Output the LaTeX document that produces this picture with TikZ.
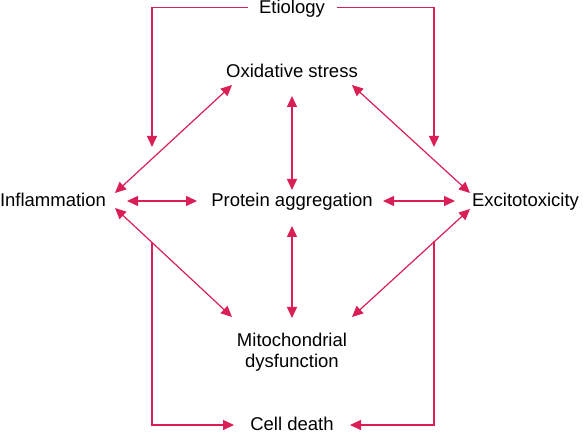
\documentclass[tikz,border=0pt]{standalone}
\usepackage{fontspec}
\setmainfont{Liberation Sans}
\usetikzlibrary{arrows.meta}
\definecolor{crim}{RGB}{218,30,86}
\tikzset{
  lbl/.style={inner sep=0pt, outer sep=0pt, anchor=base, font=\fontsize{18.5}{21}\selectfont, text=black},
  conn/.style={draw=crim, line width=1.2pt, -{Triangle[length=11pt,width=10pt]}},
  dconn/.style={draw=crim, line width=1.2pt, {Triangle[length=11pt,width=10pt]}-{Triangle[length=11pt,width=10pt]}},
  plain/.style={draw=crim, line width=1.2pt}
}
\begin{document}
\begin{tikzpicture}[x=1pt,y=-1pt]
\useasboundingbox (0,0) rectangle (584,435);
% labels
\node[lbl] (etio) at (292,14) {Etiology};
\node[lbl] (ox) at (292,78) {Oxidative stress};
\node[lbl, anchor=base west] (infl) at (0,207) {Inflammation};
\node[lbl] (prot) at (292,207) {Protein aggregation};
\node[lbl, anchor=base east] (exc) at (579,207) {Excitotoxicity};
\node[lbl, align=center] (mito) at (292,368) {Mitochondrial\\dysfunction};
\node[lbl] (cell) at (292,431) {Cell death};
% endpoints
\coordinate (eL) at (248,7.5);
\coordinate (eR) at (337,7.5);
\coordinate (etL) at (152,147);
\coordinate (etR) at (434,147);
\coordinate (oxS) at (292,96);
\coordinate (prN) at (292,190);
\coordinate (prS) at (292,226);
\coordinate (miN) at (292,318);
\coordinate (inNE) at (115,193);
\coordinate (oxSW) at (232,85);
\coordinate (oxSE) at (352,85);
\coordinate (exNW) at (470,193);
\coordinate (inSE) at (115,208);
\coordinate (miNW) at (232,317);
\coordinate (exSW) at (470,209);
\coordinate (miNE) at (352,317);
\coordinate (inE) at (127,201);
\coordinate (prW) at (197,201);
\coordinate (prE) at (383,201);
\coordinate (exW) at (455,201);
\coordinate (bL) at (152,242);
\coordinate (bR) at (434,241);
\coordinate (ceW) at (234,425);
\coordinate (ceE) at (350,425);
% connectors
\draw[conn] (eL) -| (etL);
\draw[conn] (eR) -| (etR);
\draw[dconn] (oxS) -- (prN);
\draw[dconn] (prS) -- (miN);
\draw[dconn] (inNE) -- (oxSW);
\draw[dconn] (oxSE) -- (exNW);
\draw[dconn] (inSE) -- (miNW);
\draw[dconn] (exSW) -- (miNE);
\draw[dconn] (inE) -- (prW);
\draw[dconn] (prE) -- (exW);
\draw[conn] (bL) |- (ceW);
\draw[conn] (bR) |- (ceE);
\end{tikzpicture}
\end{document}
